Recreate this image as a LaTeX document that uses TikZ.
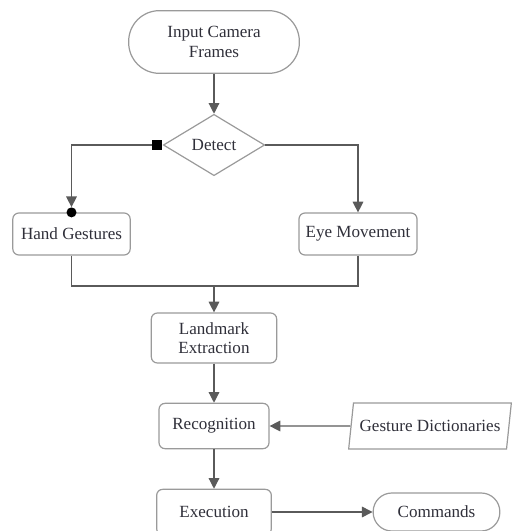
\documentclass[tikz,border=0pt]{standalone}
\usepackage{fontspec}
\setmainfont{Liberation Serif}
\usetikzlibrary{arrows.meta,shapes.geometric}
\definecolor{edgegray}{HTML}{9A9A9A}
\definecolor{linegray}{HTML}{5A5A5A}
\definecolor{txtgray}{HTML}{30303A}
\begin{document}
\begin{tikzpicture}[x=0.75pt,y=-0.75pt,
	every node/.style={font=\fontsize{12.8}{14.5}\selectfont,text=txtgray,align=center},
	box/.style={draw=edgegray,line width=0.9pt,rounded corners=4.5pt,fill=white,inner sep=2pt},
	term/.style={draw=edgegray,line width=0.9pt,rounded corners=14pt,fill=white,inner sep=2pt},
	decision/.style={draw=edgegray,line width=0.9pt,diamond,inner sep=0pt,minimum width=76pt,minimum height=46pt},
	datain/.style={draw=edgegray,line width=0.9pt,trapezium,trapezium left angle=74,trapezium right angle=106,trapezium stretches body,minimum width=122pt,minimum height=34.5pt,inner sep=2pt},
	link/.style={draw=linegray,line width=0.9pt},
	flow/.style={link,-{Triangle[length=8pt,width=8pt]}}]

	% frame of the picture
	\useasboundingbox (0,0) rectangle (520,531);

	% blocks
	\node[term,rounded corners=23pt,minimum width=128pt,minimum height=47pt] (frames) at (214,42) {Input Camera\\Frames};
	\node[decision] (detect) at (214,145) {Detect};
	\node[box,minimum width=88pt,minimum height=31.5pt] (hand) at (71.5,234) {Hand Gestures};
	\node[box,minimum width=88.5pt,minimum height=31.5pt] (eye) at (358,234) {Eye Movement};
	\node[box,minimum width=94pt,minimum height=37.5pt] (landmark) at (214,338) {Landmark\\Extraction};
	\node[box,minimum width=82.5pt,minimum height=34pt] (recog) at (214,426) {Recognition};
	\node[datain] (dict) at (430,426) {Gesture Dictionaries};
	\node[box,minimum width=86pt,minimum height=34pt] (exec) at (214,512) {Execution};
	\node[term,minimum width=95pt,minimum height=28.5pt] (cmds) at (436.5,512) {Commands};

	% markers
	\node[fill=black,inner sep=0pt,minimum size=8pt,anchor=east] (sqmark) at (detect.west) {};
	\node[fill=black,circle,inner sep=0pt,minimum size=7.5pt] (hdot) at (hand.north) {};
	\coordinate (merge) at (214,286);

	% links
	\draw[flow] (frames) -- (detect); % input frames to detect
	\draw[flow] (sqmark.west) -| (hdot.north); % detect to hand gestures
	\draw[flow] (detect.east) -| (eye.north); % detect to eye movement
	\draw[link] (hand.south) |- (merge); % hand gestures to merge point
	\draw[link] (eye.south) |- (merge); % eye movement to merge point
	\draw[flow] (merge) -- (landmark.north); % merge point to landmark extraction
	\draw[flow] (landmark) -- (recog); % landmark extraction to recognition
	\draw[flow] (dict) -- (recog); % dictionaries to recognition
	\draw[flow] (recog) -- (exec); % recognition to execution
	\draw[flow] (exec) -- (cmds); % execution to commands

\end{tikzpicture}
\end{document}
